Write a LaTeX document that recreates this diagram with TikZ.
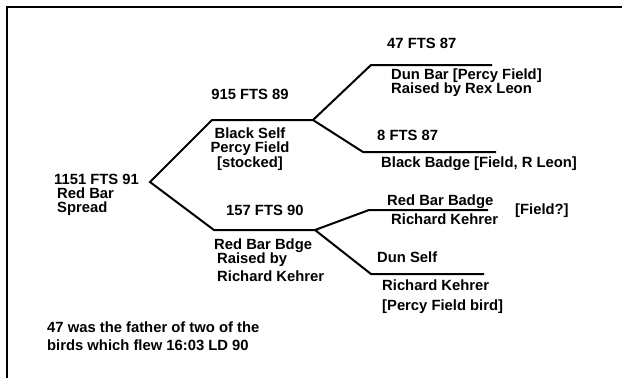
\documentclass[tikz,border=0pt]{standalone}
\usepackage{fontspec}
\setmainfont{Liberation Sans}
\begin{document}
\begin{tikzpicture}[x=1pt, y=-1pt,
  branch/.style={line width=2pt},
  lbl/.style={anchor=base west, inner sep=0pt, align=left,
              font=\bfseries\fontsize{14.8}{14}\selectfont},
  midlbl/.style={lbl, anchor=base, align=center}]

  \useasboundingbox (0,0) rectangle (622,378);

  % Frame
  \draw[line width=1.3pt] (622,7) -- (7,7) -- (7,378);

  % Tree points
  \coordinate (root) at (150,182);
  \coordinate (up1) at (212,120);  \coordinate (up2) at (313,120);
  \coordinate (lo1) at (214,230);  \coordinate (lo2) at (315,230);
  \coordinate (sa1) at (371,65);   \coordinate (sa2) at (492,65);
  \coordinate (sb1) at (363,152);  \coordinate (sb2) at (496,152);
  \coordinate (sc1) at (369,210);  \coordinate (sc2) at (488,210);
  \coordinate (sd1) at (371,274);  \coordinate (sd2) at (484,274);

  % Branches
  \draw[branch] (up2) -- (up1) -- (root) -- (lo1) -- (lo2);
  \draw[branch] (sa2) -- (sa1) -- (up2) -- (sb1) -- (sb2);
  \draw[branch] (sc2) -- (sc1) -- (lo2) -- (sd1) -- (sd2);

  % Root bird (base = last line)
  \node[lbl] (n1151) at (54,212) {1151 FTS 91\\\hspace*{3pt}Red Bar\\\hspace*{3pt}Spread};

  % Sire line
  \node[midlbl] (n915) at (250,99) {915 FTS 89};
  \node[midlbl] (n915d) at (250,167) {Black Self\\Percy Field\\[1pt][stocked]};
  \node[lbl] (n47) at (387,48) {47 FTS 87};
  \node[lbl] (n47d) at (391,93) {Dun Bar [Percy Field]\\Raised by Rex Leon};
  \node[lbl] (n8) at (377,140) {8 FTS 87};
  \node[lbl] (n8d) at (381,167) {Black Badge [Field, R Leon]};

  % Dam line
  \node[lbl] (n157) at (226,215) {157 FTS 90};
  \node[lbl] (n157d) at (214,281) {Red Bar Bdge\\\hspace*{3pt}Raised by\\[4pt]\hspace*{3pt}Richard Kehrer};
  \node[lbl] (nrbb) at (387,224) {Red Bar Badge\\[5pt]\hspace*{4pt}Richard Kehrer};
  \node[lbl] (nfq) at (515,214) {[Field?]};
  \node[lbl] (nds) at (377,262) {Dun Self};
  \node[lbl] (ndsd) at (382,310) {Richard Kehrer\\[6pt][Percy Field bird]};

  % Note
  \node[lbl, font=\bfseries\fontsize{14.8}{18}\selectfont] (note) at (47,350)
    {47 was the father of two of the\\birds which flew 16:03 LD 90};

\end{tikzpicture}
\end{document}
